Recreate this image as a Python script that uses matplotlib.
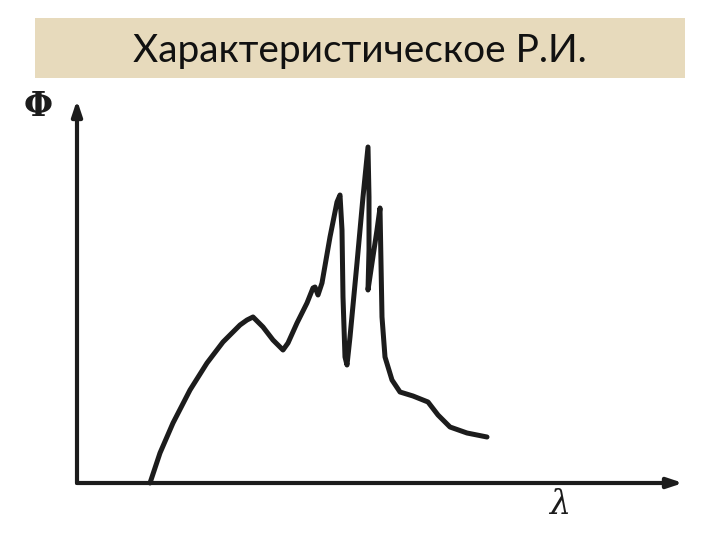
import matplotlib.pyplot as plt

# characteristic X-ray spectrum (schematic, arbitrary units)
lam = [73, 83, 96, 113, 130, 146, 163, 170, 176, 186, 196, 206, 211, 220, 230, 236, 238,
       241, 245, 253, 260, 263, 265, 266, 268, 270, 273, 280, 286, 291, 292, 292, 291,
       295, 300, 303, 304, 305, 308, 315, 323, 336, 351, 361, 373, 390, 410]
phi = [0, 30, 60, 93, 120, 141, 158, 163, 166, 156, 143, 133, 140, 160, 180, 195, 196,
       188, 200, 246, 281, 288, 253, 186, 126, 118, 146, 220, 286, 336, 286, 233, 193,
       220, 253, 275, 220, 166, 126, 103, 91, 87, 81, 68, 56, 50, 46]

title = "Характеристическое Р.И."

W, H = 720, 540
fig = plt.figure(figsize=(7.2, 5.4), dpi=100)
fig.patch.set_facecolor("white")

# title banner
ax_t = fig.add_axes([35 / W, 1 - 78 / H, 650 / W, 60 / H])
ax_t.set_facecolor("#e7dabc")
for s in ax_t.spines.values():
    s.set_visible(False)
ax_t.set_xticks([])
ax_t.set_yticks([])
ax_t.text(0.5, 0.45, title, ha="center", va="center", fontsize=28,
          family="Lato", color="#111111", transform=ax_t.transAxes)

# plot area, origin at the axis corner
x0, y0, x1, y1 = 77, 483, 683, 100
ax = fig.add_axes([x0 / W, 1 - y0 / H, (x1 - x0) / W, (y0 - y1) / H])
ax.set_xlim(0, x1 - x0)
ax.set_ylim(0, y0 - y1)
ax.axis("off")

ax.plot(lam, phi, color="#1c1c1c", lw=3.6, solid_joinstyle="round",
        solid_capstyle="round", clip_on=False)

arrow = dict(arrowstyle="-|>,head_length=0.9,head_width=0.3", lw=3, color="#1c1c1c",
             shrinkA=0, shrinkB=0)
ax.annotate("", xy=(1, 0), xytext=(0, 0), xycoords="axes fraction", arrowprops=arrow)
ax.annotate("", xy=(0, 1), xytext=(0, 0), xycoords="axes fraction", arrowprops=arrow)

fig.text(38 / W, 1 - 106 / H, "Φ", fontsize=24, family="DejaVu Serif",
         fontweight="bold", ha="center", va="center", color="#1c1c1c")
fig.text(560 / W, 1 - 505 / H, "λ", fontsize=24, family="DejaVu Serif",
         style="italic", ha="center", va="center", color="#1c1c1c")

fig.savefig("out.png", dpi=100)
